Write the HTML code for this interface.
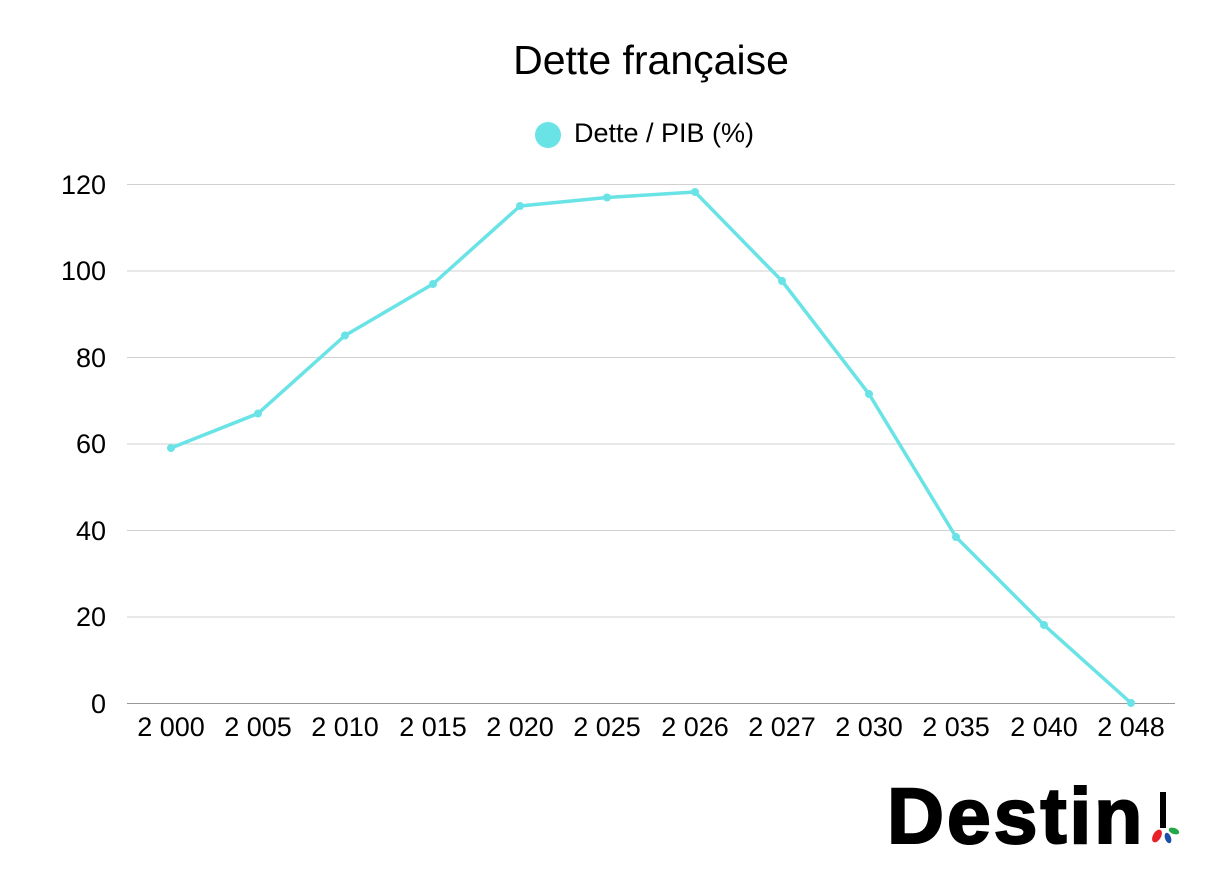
<!DOCTYPE html>
<html><head><meta charset="utf-8"><style>
body{margin:0;background:#fff;}
svg{display:block;font-family:"Liberation Sans",sans-serif;}
</style></head><body>
<svg width="1210" height="880" viewBox="0 0 1210 880">
<text x="651" y="74" font-size="41" text-anchor="middle" fill="#000">Dette française</text>
<circle cx="548" cy="135" r="13" fill="#6ae3e6"/>
<text x="574" y="142" font-size="27" fill="#000">Dette / PIB (%)</text>
<g stroke="#d0d0d0" stroke-width="1">
<line x1="127" x2="1175" y1="184.5" y2="184.5"/>
<line x1="127" x2="1175" y1="271" y2="271"/>
<line x1="127" x2="1175" y1="357.5" y2="357.5"/>
<line x1="127" x2="1175" y1="444" y2="444"/>
<line x1="127" x2="1175" y1="530.5" y2="530.5"/>
<line x1="127" x2="1175" y1="617" y2="617"/>
</g>
<line x1="127" x2="1175" y1="703.5" y2="703.5" stroke="#999" stroke-width="1"/>
<g font-size="27" fill="#000" text-anchor="end">
<text x="106" y="194">120</text>
<text x="106" y="280">100</text>
<text x="106" y="367">80</text>
<text x="106" y="453">60</text>
<text x="106" y="540">40</text>
<text x="106" y="626">20</text>
<text x="106" y="713">0</text>
</g>
<g font-size="27" fill="#000" text-anchor="middle">
<text x="171" y="736">2 000</text>
<text x="258" y="736">2 005</text>
<text x="345" y="736">2 010</text>
<text x="433" y="736">2 015</text>
<text x="520" y="736">2 020</text>
<text x="607" y="736">2 025</text>
<text x="695" y="736">2 026</text>
<text x="782" y="736">2 027</text>
<text x="869" y="736">2 030</text>
<text x="956" y="736">2 035</text>
<text x="1044" y="736">2 040</text>
<text x="1131" y="736">2 048</text>
</g>
<polyline fill="none" stroke="#6ae3e6" stroke-width="3.5" stroke-linejoin="round"
points="171,448 258,413.5 345,335.5 433,284 520,206 607,197.5 695,192 782,281 869,394 956,537 1044,625 1131,703"/>
<g fill="#6ae3e6">
<circle cx="171" cy="448" r="4"/><circle cx="258" cy="413.5" r="4"/><circle cx="345" cy="335.5" r="4"/>
<circle cx="433" cy="284" r="4"/><circle cx="520" cy="206" r="4"/><circle cx="607" cy="197.5" r="4"/>
<circle cx="695" cy="192" r="4"/><circle cx="782" cy="281" r="4"/><circle cx="869" cy="394" r="4"/>
<circle cx="956" cy="537" r="4"/><circle cx="1044" cy="625" r="4"/><circle cx="1131" cy="703" r="4"/>
</g>
<text x="887" y="843" font-size="79" font-weight="bold" fill="#000" stroke="#000" stroke-width="2" letter-spacing="2.8">Destin</text>
<rect x="1160" y="792" width="6" height="36" fill="#000"/>
<ellipse cx="1157" cy="836" rx="4" ry="7" transform="rotate(30 1157 836)" fill="#e8202a"/>
<ellipse cx="1168" cy="838" rx="3" ry="5.5" transform="rotate(-20 1168 838)" fill="#1b4fa8"/>
<ellipse cx="1174" cy="831" rx="5.5" ry="3" transform="rotate(20 1174 831)" fill="#22a84a"/>
</svg>
</body></html>
